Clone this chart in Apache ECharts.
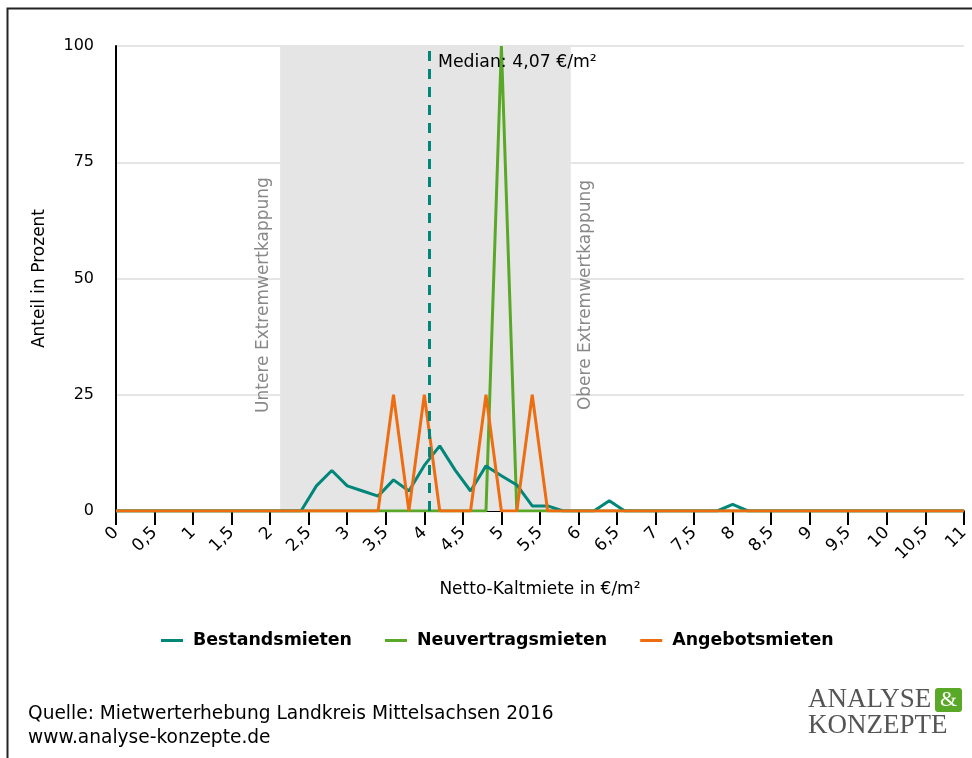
<!DOCTYPE html>
<html><head><meta charset="utf-8">
<script src="https://cdn.jsdelivr.net/npm/echarts@6/dist/echarts.min.js"></script>
<style>html,body{margin:0;padding:0;background:#fff}#c{width:972px;height:758px}</style>
</head><body><div id="c"></div>
<script>
// x positions (€/m²), step 0.2
var xValues = [0,0.2,0.4,0.6,0.8,1,1.2,1.4,1.6,1.8,2,2.2,2.4,2.6,2.8,3,3.2,3.4,3.6,3.8,4,4.2,4.4,4.6,4.8,5,5.2,5.4,5.6,5.8,6,6.2,6.4,6.6,6.8,7,7.2,7.4,7.6,7.8,8,8.2,8.4,8.6,8.8,9,9.2,9.4,9.6,9.8,10,10.2,10.4,10.6,10.8,11];
var bestandsmieten = [0,0,0,0,0,0,0,0,0,0,0,0,0,5.4,8.7,5.4,4.3,3.2,6.7,4.3,9.8,14,8.8,4.3,9.7,7.6,5.6,1.1,1.1,0,0,0,2.2,0,0,0,0,0,0,0,1.4,0,0,0,0,0,0,0,0,0,0,0,0,0,0,0];
var neuvertragsmieten = [0,0,0,0,0,0,0,0,0,0,0,0,0,0,0,0,0,0,0,0,0,0,0,0,0,100,0,0,0,0,0,0,0,0,0,0,0,0,0,0,0,0,0,0,0,0,0,0,0,0,0,0,0,0,0,0];
var angebotsmieten = [0,0,0,0,0,0,0,0,0,0,0,0,0,0,0,0,0,0,25,0,25,0,0,0,25,0,0,25,0,0,0,0,0,0,0,0,0,0,0,0,0,0,0,0,0,0,0,0,0,0,0,0,0,0,0,0];
var seriesNames = ['Bestandsmieten','Neuvertragsmieten','Angebotsmieten'];
var median = 4.07;
var bandMin = 2.13, bandMax = 5.9;
var yTicks = [0,25,50,75,100];

var FONT = "'DejaVu Sans',Verdana,sans-serif";
var SERIF = '"Liberation Serif","DejaVu Serif",serif';
var C_TEAL = '#00877a', C_GREEN = '#5aa827', C_ORANGE = '#ee6d10';

function pairs(arr){ return xValues.map(function(x,i){ return [x, arr[i]]; }); }

var chart = echarts.init(document.getElementById('c'), null, {renderer:'canvas'});
chart.setOption({
  animation:false,
  backgroundColor:'#fff',
  textStyle:{fontFamily:FONT},
  grid:{left:116, right:5, top:46, bottom:247, containLabel:false},
  xAxis:{
    type:'value', min:0, max:11, interval:0.5,
    name:'Netto-Kaltmiete in €/m²', nameLocation:'middle', nameGap:70,
    nameTextStyle:{fontFamily:FONT, fontSize:17, color:'#000'},
    axisLine:{show:true, onZero:false, lineStyle:{color:'#000', width:2}},
    axisTick:{show:true, length:14, lineStyle:{color:'#000', width:2}},
    axisLabel:{rotate:45, fontFamily:FONT, fontSize:17, color:'#000', margin:19,
      formatter:function(v){ return String(v).replace('.', ','); }},
    splitLine:{show:false}
  },
  yAxis:{
    type:'value', min:0, max:100, interval:25,
    name:'Anteil in Prozent', nameLocation:'middle', nameGap:68, nameRotate:90,
    nameTextStyle:{fontFamily:FONT, fontSize:17, color:'#000'},
    axisLine:{show:true, lineStyle:{color:'#000', width:2}},
    axisTick:{show:false},
    axisLabel:{fontFamily:FONT, fontSize:16, color:'#000', margin:22,
      formatter:function(v){ return yTicks.indexOf(v)>=0 ? String(v) : ''; }},
    splitLine:{show:true, lineStyle:{color:'#dcdcdc', width:1.5}}
  },
  legend:{
    data:seriesNames, left:156, top:627, itemGap:33, itemWidth:22, itemHeight:3,
    icon:'rect',
    textStyle:{fontFamily:FONT, fontSize:17.4, fontWeight:'bold', color:'#000', padding:[0,0,0,5]}
  },
  series:[
    {name:seriesNames[0], type:'line', data:pairs(bestandsmieten), showSymbol:false, symbol:'none',
     lineStyle:{color:C_TEAL, width:3}, itemStyle:{color:C_TEAL}, z:3,
     markArea:{silent:true, itemStyle:{color:'#e5e5e5'}, label:{show:false},
       data:[[{xAxis:bandMin},{xAxis:bandMax}]]},
     markLine:{silent:true, symbol:'none', label:{show:false},
       lineStyle:{color:C_TEAL, type:[10,8], width:3}, data:[{xAxis:median}], z:10}
    },
    {name:seriesNames[1], type:'line', data:pairs(neuvertragsmieten), showSymbol:false, symbol:'none',
     lineStyle:{color:C_GREEN, width:3}, itemStyle:{color:C_GREEN}, z:2},
    {name:seriesNames[2], type:'line', data:pairs(angebotsmieten), showSymbol:false, symbol:'none',
     lineStyle:{color:C_ORANGE, width:3}, itemStyle:{color:C_ORANGE}, z:4}
  ],
  graphic:[
    {type:'rect', shape:{x:7.5, y:8.5, width:1000, height:800}, style:{fill:'none', stroke:'#222', lineWidth:2}, silent:true, z:100},
    {type:'text', x:438, y:63, style:{text:'Median: 4,07 €/m²', font:'17.3px '+FONT, fill:'#000', textAlign:'left', textVerticalAlign:'middle'}, z:100},
    {type:'text', x:264, y:295, rotation:Math.PI/2, style:{text:'Untere Extremwertkappung', font:'17px '+FONT, fill:'#888', textAlign:'center', textVerticalAlign:'middle'}, z:100},
    {type:'text', x:586, y:295, rotation:Math.PI/2, style:{text:'Obere Extremwertkappung', font:'17px '+FONT, fill:'#888', textAlign:'center', textVerticalAlign:'middle'}, z:100},
    {type:'text', x:28, y:714, style:{text:'Quelle: Mietwerterhebung Landkreis Mittelsachsen 2016', font:'18.6px '+FONT, fill:'#000', textAlign:'left', textVerticalAlign:'middle'}, z:100},
    {type:'text', x:28, y:738, style:{text:'www.analyse-konzepte.de', font:'18.6px '+FONT, fill:'#000', textAlign:'left', textVerticalAlign:'middle'}, z:100},
    {type:'text', x:808, y:700, style:{text:'ANALYSE', font:'27px '+SERIF, fill:'#555', textAlign:'left', textVerticalAlign:'middle'}, z:100},
    {type:'text', x:808, y:726, style:{text:'KONZEPTE', font:'27px '+SERIF, fill:'#555', textAlign:'left', textVerticalAlign:'middle'}, z:100},
    {type:'rect', shape:{x:935, y:688, width:27, height:24, r:3}, style:{fill:'#5aa827'}, z:100},
    {type:'text', x:948.5, y:700, style:{text:'&', font:'22px '+SERIF, fill:'#fff', textAlign:'center', textVerticalAlign:'middle'}, z:101}
  ]
});
</script></body></html>
